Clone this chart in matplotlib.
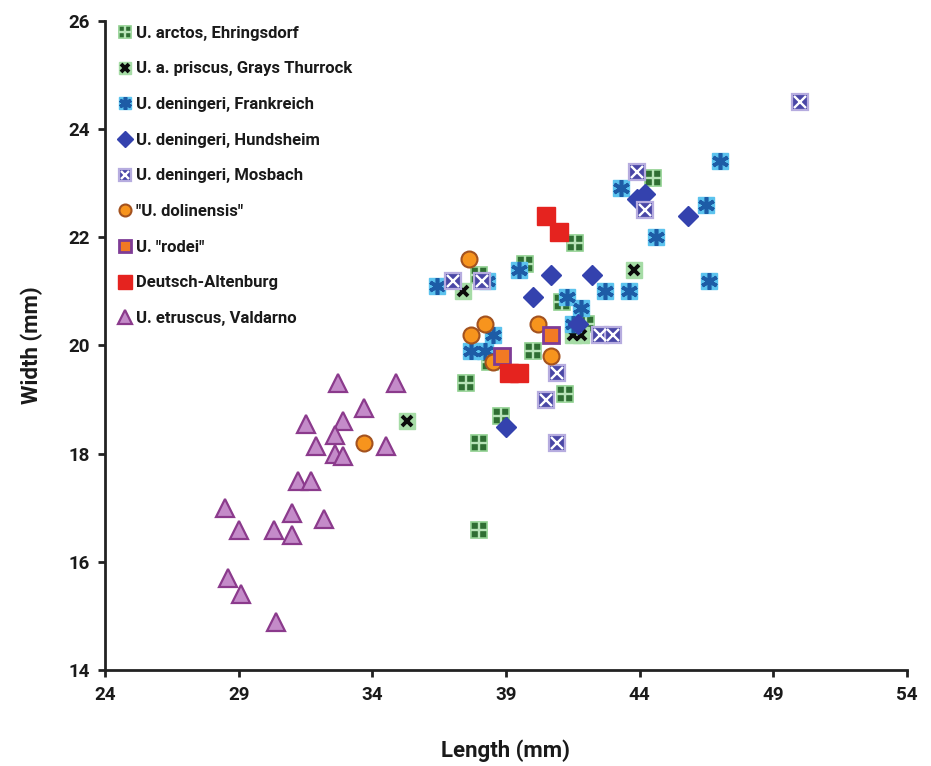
import matplotlib
matplotlib.use("Agg")
import matplotlib.pyplot as plt
from matplotlib.lines import Line2D

plt.rcParams['font.family'] = ['Roboto', 'DejaVu Sans']
plt.rcParams['font.weight'] = 'bold'

# lengths / widths (mm)
arctos_x = [44.5, 41.6, 39.7, 38.0, 41.1, 42.0, 40.0, 38.4, 37.5, 41.2, 38.8, 38.0, 38.0]
arctos_y = [23.1, 21.9, 21.5, 21.3, 20.8, 20.4, 19.9, 19.7, 19.3, 19.1, 18.7, 18.2, 16.6]

priscus_x = [35.3, 37.4, 43.8, 41.5, 41.8]
priscus_y = [18.6, 21.0, 21.4, 20.2, 20.2]

frank_x = [43.3, 44.6, 47.0, 46.5, 46.6, 36.4, 38.3, 39.5, 41.3, 42.7, 43.6, 41.8, 41.5, 38.5, 37.7, 38.2]
frank_y = [22.9, 22.0, 23.4, 22.6, 21.2, 21.1, 21.2, 21.4, 20.9, 21.0, 21.0, 20.7, 20.4, 20.2, 19.9, 19.9]

hund_x = [43.9, 44.2, 45.8, 40.7, 42.2, 40.0, 41.7, 39.0]
hund_y = [22.7, 22.8, 22.4, 21.3, 21.3, 20.9, 20.4, 18.5]

mosb_x = [50.0, 43.9, 44.2, 37.0, 38.1, 42.5, 43.0, 40.9, 40.5, 40.9]
mosb_y = [24.5, 23.2, 22.5, 21.2, 21.2, 20.2, 20.2, 19.5, 19.0, 18.2]

dolin_x = [37.6, 38.2, 37.7, 40.2, 40.7, 38.5, 33.7]
dolin_y = [21.6, 20.4, 20.2, 20.4, 19.8, 19.7, 18.2]

rodei_x = [38.85, 40.7]
rodei_y = [19.8, 20.2]

da_x = [40.5, 41.0, 39.1, 39.5]
da_y = [22.4, 22.1, 19.5, 19.5]

etr_x = [32.7, 34.9, 33.7, 31.5, 32.9, 31.9, 32.6, 34.5, 32.6, 32.9, 31.2, 31.7,
         28.5, 31.0, 32.2, 29.0, 30.3, 31.0, 28.6, 29.1, 30.4]
etr_y = [19.3, 19.3, 18.85, 18.55, 18.6, 18.15, 18.35, 18.15, 18.0, 17.95, 17.5, 17.5,
         17.0, 16.9, 16.8, 16.6, 16.6, 16.5, 15.7, 15.4, 14.9]

labels = ["U. arctos, Ehringsdorf", "U. a. priscus, Grays Thurrock",
          "U. deningeri, Frankreich", "U. deningeri, Hundsheim",
          "U. deningeri, Mosbach", "\"U. dolinensis\"", "U. \"rodei\"",
          "Deutsch-Altenburg", "U. etruscus, Valdarno"]

# each series is drawn as a stack of marker layers
styles = [
    [dict(marker='s', ms=11, mfc='#2f6e33', mec='#8fcf8f', mew=1.2),
     dict(marker='+', ms=11, mec='#b8e3b8', mew=1.7)],
    [dict(marker='s', ms=11, mfc='#a6dca6', mec='#a6dca6', mew=1),
     dict(marker='x', ms=7.5, mec='#0b0b0b', mew=2.8)],
    [dict(marker='s', ms=12, mfc='#5cc3ee', mec='#5cc3ee', mew=1),
     dict(marker=(6, 2, 0), ms=12, mec='#1d5ca6', mew=2.6)],
    [dict(marker='D', ms=10.5, mfc='#3442ae', mec='#3442ae', mew=1)],
    [dict(marker='s', ms=12, mfc='#4a47a6', mec='#b6acdf', mew=1.6),
     dict(marker='x', ms=8.5, mec='white', mew=1.7)],
    [dict(marker='o', ms=11.5, mfc='#f7941d', mec='#a3521f', mew=1.5)],
    [dict(marker='s', ms=12, mfc='#f27a24', mec='#7e3c96', mew=2)],
    [dict(marker='s', ms=12.5, mfc='#e5231f', mec='#e5231f', mew=1)],
    [dict(marker='^', ms=13, mfc='#c48bc9', mec='#8b3a8c', mew=1.6)],
]

xs = [arctos_x, priscus_x, frank_x, hund_x, mosb_x, dolin_x, rodei_x, da_x, etr_x]
ys = [arctos_y, priscus_y, frank_y, hund_y, mosb_y, dolin_y, rodei_y, da_y, etr_y]

fig = plt.figure(figsize=(9.31, 7.66), dpi=100)
ax = fig.add_axes([0.113, 0.125, 0.861, 0.848])

handles = []
for i in range(len(xs)):
    layers = []
    for st in styles[i]:
        ax.plot(xs[i], ys[i], linestyle='none', zorder=3 + i, **st)
        hs = dict(st)
        hs['ms'] = st['ms'] * 0.75
        layers.append(Line2D([], [], linestyle='none', **hs))
    handles.append(tuple(layers))

ax.set_xlim(24, 54)
ax.set_ylim(14, 26)
ax.set_xticks([24, 29, 34, 39, 44, 49, 54])
ax.set_yticks([14, 16, 18, 20, 22, 24, 26])

for s in ['top', 'right']:
    ax.spines[s].set_visible(False)
for s in ['left', 'bottom']:
    ax.spines[s].set_linewidth(2)
    ax.spines[s].set_color('#222222')
ax.tick_params(direction='out', length=5, width=2, color='#222222',
               labelsize=13.5, labelcolor='#1a1a1a', pad=6)

ax.set_xlabel("Length (mm)", fontsize=16, fontweight='bold', labelpad=26, color='#1a1a1a')
ax.set_ylabel("Width (mm)", fontsize=16, fontweight='bold', labelpad=18, color='#1a1a1a')

leg = ax.legend(handles, labels, loc='upper left', bbox_to_anchor=(0.01, 1.0),
                frameon=False, handlelength=0.8, handletextpad=0.25,
                labelspacing=1.24, borderaxespad=0.0, borderpad=0.3,
                prop=dict(size=12, weight='bold'))
for t in leg.get_texts():
    t.set_color('#1a1a1a')

fig.savefig("out.png", dpi=100)
